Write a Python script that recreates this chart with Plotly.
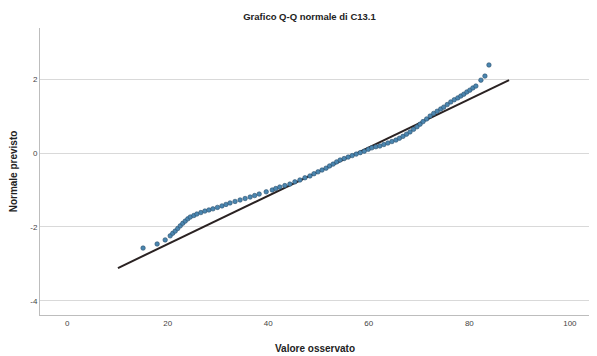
import plotly.graph_objects as go

title_text = "Grafico Q-Q normale di C13.1"
x_title = "Valore osservato"
y_title = "Normale previsto"

observed = [15.1, 17.9, 19.5, 20.5, 21.0, 21.5, 22.0, 22.5, 23.0, 23.5, 24.0, 24.5,
            25.2, 25.8, 26.6, 27.4, 28.2, 29.0, 29.9, 30.8, 31.6, 32.4, 33.4, 34.4,
            35.4, 36.4, 37.3, 38.2, 39.6, 40.8, 41.5, 42.3, 43.3, 44.3, 45.3, 46.3,
            47.3, 48.3, 49.1, 49.9, 50.7, 51.5, 52.2, 52.9, 53.6, 54.3, 55.1, 55.9,
            56.7, 57.5, 58.3, 59.1, 59.9, 60.6, 61.4, 62.2, 63.0, 63.8, 64.6, 65.4,
            66.1, 66.8, 67.5, 68.2, 68.9, 69.6, 70.2, 70.8, 71.5, 72.2, 72.9, 73.6,
            74.3, 74.9, 75.6, 76.3, 77.0, 77.7, 78.3, 78.9, 79.5, 80.1, 80.7, 81.3,
            82.3, 83.1, 83.9]
expected = [-2.57, -2.46, -2.35, -2.24, -2.17, -2.11, -2.04, -1.97, -1.90, -1.84, -1.78, -1.73,
            -1.69, -1.65, -1.61, -1.57, -1.54, -1.51, -1.47, -1.43, -1.39, -1.35, -1.31, -1.27,
            -1.23, -1.19, -1.15, -1.11, -1.05, -1.00, -0.96, -0.92, -0.88, -0.84, -0.78, -0.73,
            -0.67, -0.62, -0.56, -0.51, -0.46, -0.41, -0.35, -0.30, -0.24, -0.19, -0.15, -0.11,
            -0.07, -0.03, 0.01, 0.05, 0.10, 0.14, 0.17, 0.19, 0.23, 0.27, 0.31, 0.35,
            0.40, 0.45, 0.51, 0.57, 0.64, 0.71, 0.78, 0.85, 0.92, 1.00, 1.07, 1.13,
            1.19, 1.24, 1.31, 1.38, 1.44, 1.49, 1.54, 1.59, 1.65, 1.70, 1.76, 1.81,
            1.97, 2.08, 2.38]

ref_x = [10.1, 87.9]
ref_y = [-3.11, 1.97]

x_ticks = [0, 20, 40, 60, 80, 100]
y_ticks = [-4, -2, 0, 2]

fig = go.Figure()
fig.add_trace(go.Scatter(x=ref_x, y=ref_y, mode="lines",
                         line=dict(color="#2a2222", width=2), showlegend=False))
fig.add_trace(go.Scatter(x=observed, y=expected, mode="markers",
                         marker=dict(color="#4a86b0", size=4.5,
                                     line=dict(color="#2b4f6b", width=0.6)),
                         showlegend=False))

fig.update_layout(
    width=597, height=356,
    margin=dict(l=32, r=15, t=20, b=49),
    paper_bgcolor="white", plot_bgcolor="white",
    font=dict(family="Liberation Sans, Arial, sans-serif", color="#222222"),
    title=dict(text="<b>" + title_text + "</b>", x=0.505, xanchor="center",
               y=0.975, yanchor="middle", font=dict(size=9.5, color="#222222")),
    xaxis=dict(range=[-5.4, 104], tickvals=x_ticks, ticktext=[str(v) for v in x_ticks],
               showgrid=False, zeroline=False, showline=True, linecolor="#bdbdbd",
               linewidth=1, mirror=False, ticks="", automargin=False,
               tickfont=dict(size=8, color="#444444"),
               title=dict(text="<b>" + x_title + "</b>", font=dict(size=10, color="#222222"),
                          standoff=18)),
    yaxis=dict(range=[-4.38, 3.38], tickvals=y_ticks, ticktext=[str(v) for v in y_ticks],
               showgrid=True, gridcolor="#d9d9d9", gridwidth=1, zeroline=False,
               showline=True, linecolor="#bdbdbd", linewidth=1, ticks="", automargin=False,
               tickfont=dict(size=8, color="#444444"),
               title=dict(text="<b>" + y_title + "</b>", font=dict(size=10, color="#222222"),
                          standoff=12)),
)

fig.write_html("out.html")
